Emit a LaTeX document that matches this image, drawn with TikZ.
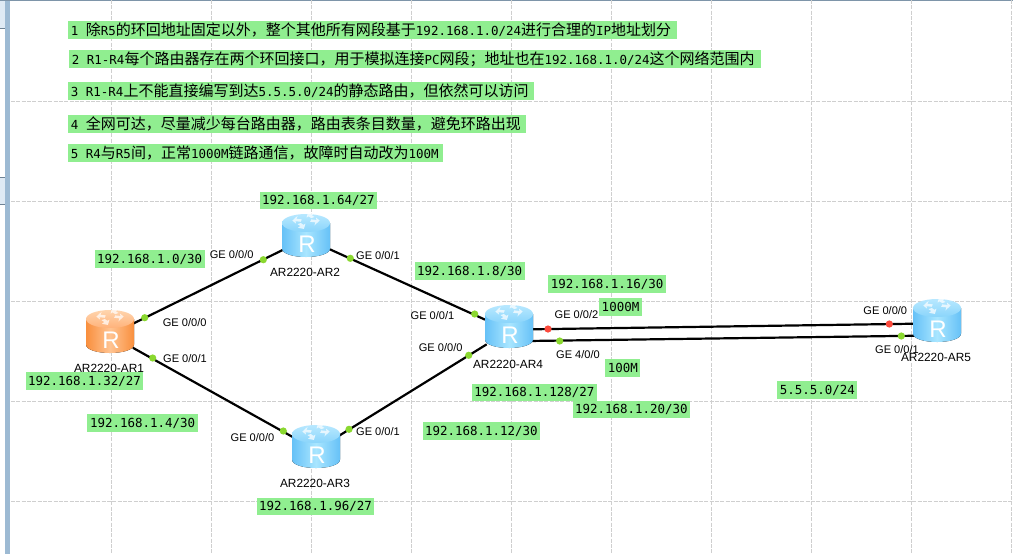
\documentclass[tikz,border=0pt]{standalone}
\usepackage{fontspec}
\setmainfont{Liberation Sans}
\newfontfamily\cjkfam{Noto Sans CJK SC}
\newfontfamily\monofam{DejaVu Sans Mono}
\usetikzlibrary{shapes.geometric,backgrounds}
\definecolor{labelgreen}{HTML}{90EE90}
\definecolor{portgreen}{HTML}{8AD82F}
\definecolor{portred}{HTML}{FB4A3C}
\definecolor{gridgrey}{HTML}{CFCFCF}
\definecolor{chromebar}{HTML}{9DBAD3}
\definecolor{chromepanel}{HTML}{DFEAF4}
\definecolor{bluetopA}{HTML}{B8E8FF}
\definecolor{bluetopB}{HTML}{8AD5FB}
\definecolor{blueside}{HTML}{66C1F7}
\definecolor{bluemid}{HTML}{A9E6FF}
\definecolor{orangetopA}{HTML}{FFD5AE}
\definecolor{orangetopB}{HTML}{FFB27A}
\definecolor{orangeside}{HTML}{F98F3D}
\definecolor{orangemid}{HTML}{FFC391}
\newcommand{\C}[1]{{\cjkfam\fontsize{11.25pt}{13pt}\selectfont #1}}
\tikzset{
  gridline/.style={gridgrey,dash pattern=on 3pt off 1pt,line width=0.75pt},
  link/.style={black,line width=1.65pt},
  routerbase/.style={circle,minimum size=39pt,inner sep=0pt},
  portdot/.style={circle,minimum size=5.4pt,inner sep=0pt},
  portok/.style={portdot,fill=portgreen},
  portdown/.style={portdot,fill=portred},
  portlabel/.style={font=\fontsize{8.3pt}{10pt}\selectfont,inner sep=0pt},
  devlabel/.style={font=\fontsize{8.9pt}{11pt}\selectfont,inner sep=0pt},
  greenbox/.style={fill=labelgreen,inner sep=0pt,font=\monofam\fontsize{9.35pt}{11pt}\selectfont},
}
% router picture: centre x, centre y, side colour, mid colour, top colours
\newcommand{\routerart}[6]{%
  \begin{scope}[shift={(#1,#2)}]
    \fill[left color=#3,right color=#3,middle color=#4]
      (-24,-12.5) -- (-24,13) .. controls (-24,18.5) and (-12,21.5) .. (0,21.5)
      .. controls (12,21.5) and (24,18.5) .. (24,13) -- (24,-12.5) -- cycle;
    \shade[top color=#5,bottom color=#6] (0,-12.5) ellipse [x radius=24,y radius=9];
    \begin{scope}[yshift=-0.5pt,yscale=1.2,xscale=1.05,shift={(0,-11)}]
    \fill[white,opacity=.72]
      (-13,-2) -- (-8,-6) -- (-9,-3.5) -- (-4,-3) -- (-5,-1) -- (-10,-1.5) -- (-9.5,0.5) -- cycle
      (13,-2) -- (8,2) -- (9,-0.5) -- (4,-1) -- (5,-3) -- (10,-2.5) -- (9.5,-4.5) -- cycle
      (2,-9) -- (7.5,-8) -- (5.5,-6.5) -- (8,-5) -- (5,-4) -- (2.5,-5.5) -- (0.5,-4.5) -- cycle
      (-2,5) -- (-7.5,4) -- (-5.5,2.5) -- (-8,1) -- (-5,0) -- (-2.5,1.5) -- (-0.5,0.5) -- cycle;
    \end{scope}
    \node[white,inner sep=0pt,font=\fontsize{18pt}{20pt}\selectfont] at (1,8.5) {R};
  \end{scope}}
\newcommand{\gridall}{%
  \foreach \gx in {111,211,...,1011} {\draw[gridline] (\gx,0) -- (\gx,554);}
  \foreach \gy in {101,201,...,501} {\draw[gridline] (11,\gy) -- (1013,\gy);}}
\newcommand{\gbox}[6]{% name x1 y1 x2 y2 text
  \pgfmathsetmacro{\gw}{(#4-#2)*0.75}\pgfmathsetmacro{\gh}{(#5-#3)*0.75}%
  \node[greenbox,minimum width=\gw pt,minimum height=\gh pt] (#1) at ({(#2+#4)/2},{(#3+#5)/2}) {#6};}
\newcommand{\nbox}[6]{% name x1 y1 x2 y2 text (left aligned)
  \pgfmathsetmacro{\gw}{(#4-#2)*0.75}\pgfmathsetmacro{\gh}{(#5-#3)*0.75}%
  \node[greenbox,minimum width=\gw pt,minimum height=\gh pt] (#1) at ({(#2+#4)/2},{(#3+#5)/2}) {};
  \node[inner sep=0pt,anchor=west,font=\monofam\fontsize{9.35pt}{11pt}\selectfont] (#1t) at (#2+2.4,{(#3+#5)/2}) {#6};}
\begin{document}
\begin{tikzpicture}[x=0.75pt,y=-0.75pt]
\useasboundingbox (0,0) rectangle (1013,554);
\fill[white] (0,0) rectangle (1013,554);
% window chrome
\fill[chromepanel] (0,1) rectangle (5,28);
\fill[chromepanel] (0,177) rectangle (5,204);
\draw[chromebar!70!black,line width=0.5pt] (0,28) -- (5,28) (0,177) -- (5,177) (0,204) -- (5,204);
\fill[chromebar] (5,0) rectangle (10,554);
\fill[chromebar!80!black] (0,0) rectangle (1013,0.9);
\gridall
% notes
\nbox{n1}{68.3}{21.3}{677}{39}{1 \C{除}R5\C{的环回地址固定以外，整个其他所有网段基于}192.168.1.0/24\C{进行合理的}IP\C{地址划分}}
\nbox{n2}{69.3}{50}{761}{68}{2 R1-R4\C{每个路由器存在两个环回接口，用于模拟连接}PC\C{网段；地址也在}192.168.1.0/24\C{这个网络范围内}}
\nbox{n3}{68.3}{82.3}{533.7}{100}{3 R1-R4\C{上不能直接编写到达}5.5.5.0/24\C{的静态路由，但依然可以访问}}
\nbox{n4}{68.3}{115}{526}{133}{4 \C{全网可达，尽量减少每台路由器，路由表条目数量，避免环路出现}}
\nbox{n5}{68.3}{144.3}{443}{162}{5 R4\C{与}R5\C{间，正常}1000M\C{链路通信，故障时自动改为}100M}
% router anchors
\node[routerbase] (r1) at (110,335) {};
\node[routerbase] (r2) at (306,238.5) {};
\node[routerbase] (r3) at (316,450) {};
\node[routerbase] (r4) at (509,330.5) {};
\node[routerbase] (r5) at (937,325) {};
\coordinate (r4up) at (531,329.3);
\coordinate (r4lo) at (528,341);
\coordinate (r5up) at (915,323.7);
\coordinate (r5lo) at (918,335.7);
% links
\draw[link] (r1) -- (r2);
\draw[link] (r1) -- (r3);
\draw[link] (r2) -- (r4);
\draw[link] (r3) -- (r4);
\draw[link] (r4up) -- (r5up);
\draw[link] (r4lo) -- (r5lo);
% routers
\routerart{110}{331.5}{orangeside}{orangemid}{orangetopA}{orangetopB}
\routerart{306}{235.5}{blueside}{bluemid}{bluetopA}{bluetopB}
\routerart{316}{446.5}{blueside}{bluemid}{bluetopA}{bluetopB}
\routerart{509}{326.5}{blueside}{bluemid}{bluetopA}{bluetopB}
\routerart{937}{320.5}{blueside}{bluemid}{bluetopA}{bluetopB}
% ports
\node[portok] (p1) at (144.7,317.7) {};
\node[portok] (p2) at (152.7,358) {};
\node[portok] (p3) at (263.3,259.7) {};
\node[portok] (p4) at (350.3,258.3) {};
\node[portok] (p5) at (474.7,314) {};
\node[portok] (p6) at (468.7,355.3) {};
\node[portok] (p7) at (283.3,431) {};
\node[portok] (p8) at (349,429.3) {};
\node[portdown] (p9) at (548,329) {};
\node[portok] (p10) at (559.7,341) {};
\node[portdown] (p11) at (889.3,324) {};
\node[portok] (p12) at (901.3,336) {};
% port labels
\node[portlabel] (l1) at (184.7,323) {GE 0/0/0};
\node[portlabel] (l2) at (185,359) {GE 0/0/1};
\node[portlabel] (l3) at (231.7,255) {GE 0/0/0};
\node[portlabel] (l4) at (378,256) {GE 0/0/1};
\node[portlabel] (l5) at (432.5,316) {GE 0/0/1};
\node[portlabel] (l6) at (440.7,348) {GE 0/0/0};
\node[portlabel] (l7) at (252.5,437.3) {GE 0/0/0};
\node[portlabel] (l8) at (378,432) {GE 0/0/1};
\node[portlabel] (l9) at (576.5,315) {GE 0/0/2};
\node[portlabel] (l10) at (578,355) {GE 4/0/0};
\node[portlabel] (l11) at (885.3,311) {GE 0/0/0};
\node[portlabel] (l12) at (897,350) {GE 0/0/1};
% device labels
\node[devlabel] (d1) at (109,368.7) {AR2220-AR1};
\node[devlabel] (d2) at (305,272.7) {AR2220-AR2};
\node[devlabel] (d3) at (315,483.7) {AR2220-AR3};
\node[devlabel] (d4) at (508,364) {AR2220-AR4};
\node[devlabel] (d5) at (936,357.7) {AR2220-AR5};
% subnet labels
\gbox{s1}{259.7}{191.7}{377}{209}{192.168.1.64/27}
\gbox{s2}{94.7}{250.3}{204.7}{267.7}{192.168.1.0/30}
\gbox{s3}{25.7}{372.3}{143.3}{390}{192.168.1.32/27}
\gbox{s4}{87.3}{414.3}{198}{431.6}{192.168.1.4/30}
\gbox{s5}{256.7}{497.7}{374.3}{515}{192.168.1.96/27}
\gbox{s6}{471.7}{383.7}{597}{401}{192.168.1.128/27}
\gbox{s7}{422.7}{422.3}{540}{440}{192.168.1.12/30}
\gbox{s8}{414.7}{262.3}{524.7}{280}{192.168.1.8/30}
\gbox{s9}{548.3}{275.3}{666}{293}{192.168.1.16/30}
\gbox{s10}{599.3}{298.3}{641.7}{315.7}{1000M}
\gbox{s11}{605.3}{359.3}{640.3}{377}{100M}
\gbox{s12}{572.7}{400.7}{690}{418}{192.168.1.20/30}
\gbox{s13}{777.3}{381.3}{857.3}{398.7}{5.5.5.0/24}
\end{tikzpicture}
\end{document}
